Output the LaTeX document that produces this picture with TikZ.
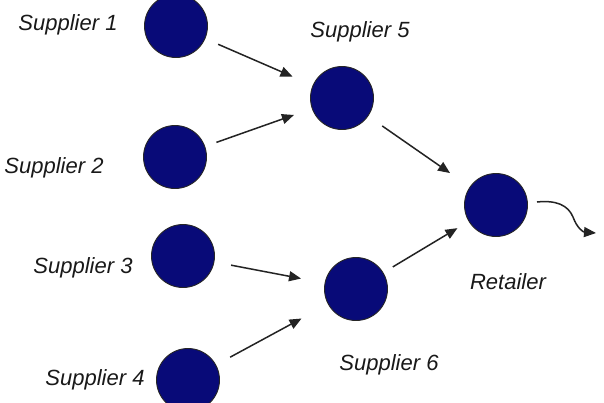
\documentclass[tikz,border=0pt]{standalone}
\usepackage{fontspec}
\setmainfont{Liberation Sans}
\usetikzlibrary{arrows.meta}
\definecolor{navy}{RGB}{8,10,120}
\definecolor{arrowgray}{RGB}{35,35,35}
\begin{document}
\begin{tikzpicture}[x=1pt,y=-1pt,
  firm/.style={circle,draw=black!85,line width=0.9pt,fill=navy,minimum size=63pt,inner sep=0pt},
  lbl/.style={font=\fontsize{22}{26}\selectfont\itshape,text=black!90,inner sep=0pt},
  flow/.style={draw=arrowgray,line width=1.5pt,-{Triangle[length=12pt,width=10pt]}}]
\clip (0,0) rectangle (604,402);
\fill[white] (0,0) rectangle (604,402);
\node[firm] (s1) at (176,26) {};
\node[firm] (s2) at (175,157) {};
\node[firm] (s3) at (183,256) {};
\node[firm] (s4) at (188,380) {};
\node[firm] (s5) at (342,98) {};
\node[firm] (s6) at (356,289) {};
\node[firm] (ret) at (496,205) {};
\node[lbl] (l1) at (68,25) {Supplier 1};
\node[lbl] (l2) at (54,168) {Supplier 2};
\node[lbl] (l3) at (83,268) {Supplier 3};
\node[lbl] (l4) at (95,380) {Supplier 4};
\node[lbl] (l5) at (360,32) {Supplier 5};
\node[lbl] (l6) at (389,365) {Supplier 6};
\node[lbl] (lr) at (508,282) {Retailer};
\draw[flow,shorten <=14pt,shorten >=22pt] (s1) -- (s5);
\draw[flow,shorten <=12pt,shorten >=19pt] (s2) -- (s5);
\draw[flow,shorten <=17pt,shorten >=24pt] (s5) -- (ret);
\draw[flow,shorten <=17pt,shorten >=24pt] (s3) -- (s6);
\draw[flow,shorten <=16pt,shorten >=30pt] (s4) -- (s6);
\draw[flow,shorten <=11pt,shorten >=13pt] (s6) -- (ret);
\coordinate (wstart) at (537,202);
\coordinate (wend) at (596,233);
\draw[draw=arrowgray,line width=1.5pt,-{Triangle[length=12pt,width=10pt]}]
  (wstart) .. controls (556,200) and (568,205) .. (573,217)
  .. controls (577,228) and (583,232) .. (wend);
\end{tikzpicture}
\end{document}
